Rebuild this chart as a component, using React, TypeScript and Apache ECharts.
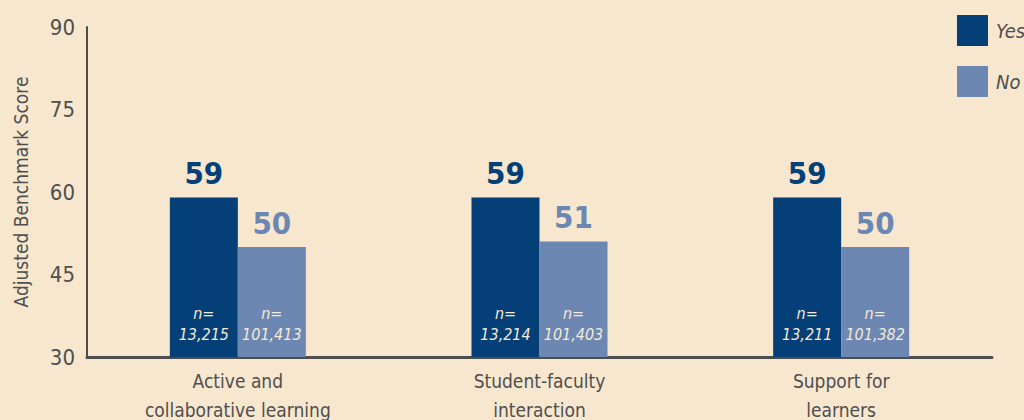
import React, { useEffect, useRef } from "react";
import * as echarts from "echarts";

const categories = ["Active and\ncollaborative learning", "Student-faculty\ninteraction", "Support for\nlearners"];
const yesValues = [59, 59, 59];
const noValues = [50, 51, 50];
const yesN = ["13,215", "13,214", "13,211"];
const noN = ["101,413", "101,403", "101,382"];
const yTicks = [30, 45, 60, 75, 90];

const FONT = "'Liberation Sans Narrow', 'DejaVu Sans Condensed', Roboto, sans-serif";
const YES_COLOR = "#043f78";
const NO_COLOR = "#6d87b3";
const TEXT = "#4f4f4f";

export default function App() {
  const ref = useRef<HTMLDivElement>(null);
  useEffect(() => {
    if (!ref.current) return;
    const chart = echarts.init(ref.current, undefined, { renderer: "svg" });
    const nLabel = (arr: string[]) => ({
      show: true,
      position: "insideBottom",
      distance: 12,
      formatter: (p: any) => `n=\n${arr[p.dataIndex]}`,
      color: "#f5ead6",
      fontFamily: FONT,
      fontStyle: "italic",
      fontSize: 16,
      lineHeight: 21,
    });
    const topLabel = (arr: number[], color: string) => ({
      show: true,
      position: "top",
      distance: 9,
      formatter: (p: any) => String(arr[p.dataIndex]),
      color,
      fontFamily: FONT,
      fontWeight: "bold",
      fontSize: 31,
    });
    chart.setOption({
      animation: false,
      backgroundColor: "#f7e7cf",
      grid: { left: 87, right: 32, top: 27, bottom: 63, outerBoundsMode: "none", containLabel: false },
      legend: {
        data: ["Yes", "No"],
        orient: "vertical",
        left: 957,
        top: 15,
        padding: 0,
        itemWidth: 31,
        itemHeight: 31,
        itemGap: 20,
        icon: "rect",
        textStyle: {
          fontFamily: FONT,
          fontStyle: "italic",
          fontSize: 20,
          color: TEXT,
          padding: [0, 0, 0, 3],
        },
      },
      xAxis: {
        type: "category",
        data: categories,
        axisLine: { lineStyle: { color: "#4d4d4d", width: 3 } },
        axisTick: { show: false },
        axisLabel: {
          color: TEXT,
          fontFamily: FONT,
          fontSize: 19,
          lineHeight: 29,
          margin: 9,
        },
      },
      yAxis: {
        type: "value",
        min: 30,
        max: 90,
        interval: 15,
        name: "Adjusted Benchmark Score",
        nameLocation: "middle",
        nameGap: 57,
        nameTextStyle: { color: TEXT, fontFamily: FONT, fontSize: 19 },
        axisLine: { show: true, lineStyle: { color: "#4d4d4d", width: 2 } },
        axisTick: { show: false },
        splitLine: { show: false },
        axisLabel: {
          color: TEXT,
          fontFamily: FONT,
          fontSize: 22,
          margin: 12,
          formatter: (v: number) => (yTicks.includes(v) ? String(v) : ""),
        },
      },
      series: [
        {
          name: "Yes",
          type: "bar",
          stack: "yes",
          data: yesValues,
          barWidth: 68,
          barGap: "0%",
          itemStyle: { color: YES_COLOR },
          label: nLabel(yesN),
        },
        {
          name: "YesTop",
          type: "bar",
          stack: "yes",
          data: yesValues.map(() => 0),
          barWidth: 68,
          itemStyle: { color: "transparent" },
          label: topLabel(yesValues, YES_COLOR),
        },
        {
          name: "No",
          type: "bar",
          stack: "no",
          data: noValues,
          barWidth: 68,
          barGap: "0%",
          itemStyle: { color: NO_COLOR },
          label: nLabel(noN),
        },
        {
          name: "NoTop",
          type: "bar",
          stack: "no",
          data: noValues.map(() => 0),
          barWidth: 68,
          itemStyle: { color: "transparent" },
          label: topLabel(noValues, NO_COLOR),
        },
      ],
    });
    return () => chart.dispose();
  }, []);
  return (
    <div
      ref={ref}
      style={{ position: "fixed", left: 0, top: 0, width: 1024, height: 420 }}
    />
  );
}
